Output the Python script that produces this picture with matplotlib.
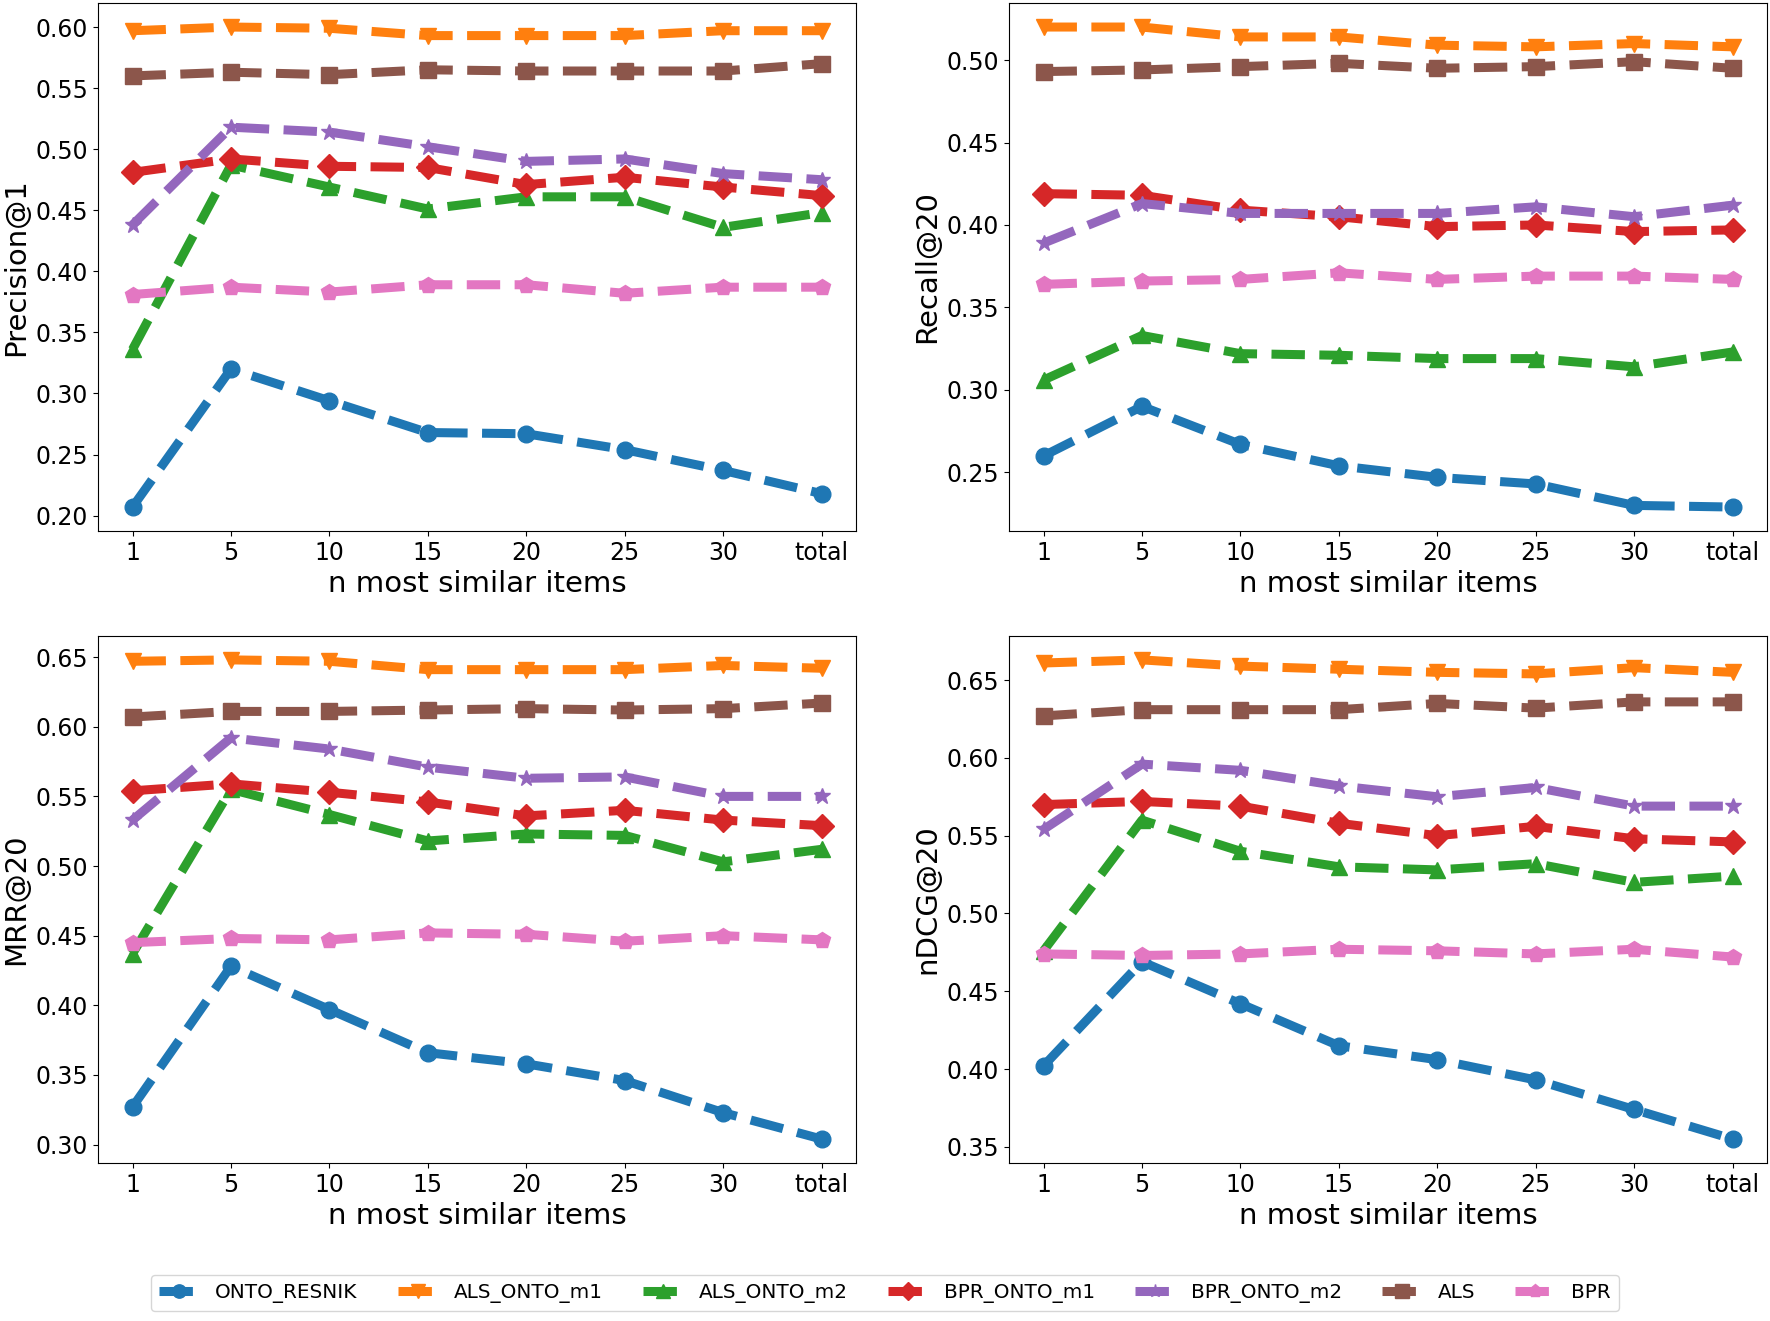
import matplotlib
matplotlib.use("Agg")
import matplotlib.pyplot as plt

# x categories
n_items = ["1", "5", "10", "15", "20", "25", "30", "total"]
methods = ["ONTO_RESNIK", "ALS_ONTO_m1", "ALS_ONTO_m2", "BPR_ONTO_m1",
           "BPR_ONTO_m2", "ALS", "BPR"]
markers = ["o", "v", "^", "D", "*", "s", "p"]

# Precision@1
prec_onto_resnik = [0.207, 0.320, 0.294, 0.268, 0.267, 0.254, 0.237, 0.218]
prec_als_onto_m1 = [0.597, 0.600, 0.599, 0.593, 0.593, 0.593, 0.597, 0.597]
prec_als_onto_m2 = [0.336, 0.487, 0.469, 0.451, 0.461, 0.461, 0.436, 0.448]
prec_bpr_onto_m1 = [0.481, 0.492, 0.486, 0.485, 0.471, 0.477, 0.469, 0.462]
prec_bpr_onto_m2 = [0.438, 0.518, 0.514, 0.502, 0.490, 0.492, 0.480, 0.475]
prec_als = [0.560, 0.563, 0.561, 0.565, 0.564, 0.564, 0.564, 0.570]
prec_bpr = [0.381, 0.387, 0.383, 0.389, 0.389, 0.382, 0.387, 0.387]

# Recall@20
rec_onto_resnik = [0.260, 0.290, 0.267, 0.254, 0.247, 0.243, 0.230, 0.229]
rec_als_onto_m1 = [0.520, 0.520, 0.514, 0.514, 0.509, 0.508, 0.510, 0.508]
rec_als_onto_m2 = [0.306, 0.333, 0.322, 0.321, 0.319, 0.319, 0.314, 0.323]
rec_bpr_onto_m1 = [0.419, 0.418, 0.409, 0.405, 0.399, 0.400, 0.396, 0.397]
rec_bpr_onto_m2 = [0.389, 0.413, 0.407, 0.407, 0.407, 0.411, 0.405, 0.412]
rec_als = [0.493, 0.494, 0.496, 0.498, 0.495, 0.496, 0.499, 0.495]
rec_bpr = [0.364, 0.366, 0.367, 0.371, 0.367, 0.369, 0.369, 0.367]

# MRR@20
mrr_onto_resnik = [0.327, 0.428, 0.397, 0.366, 0.358, 0.346, 0.323, 0.304]
mrr_als_onto_m1 = [0.647, 0.648, 0.647, 0.641, 0.641, 0.641, 0.644, 0.642]
mrr_als_onto_m2 = [0.437, 0.555, 0.537, 0.518, 0.523, 0.522, 0.503, 0.512]
mrr_bpr_onto_m1 = [0.554, 0.559, 0.553, 0.546, 0.536, 0.540, 0.533, 0.529]
mrr_bpr_onto_m2 = [0.533, 0.592, 0.584, 0.571, 0.563, 0.564, 0.550, 0.550]
mrr_als = [0.607, 0.611, 0.611, 0.612, 0.613, 0.612, 0.613, 0.617]
mrr_bpr = [0.445, 0.448, 0.447, 0.452, 0.451, 0.446, 0.450, 0.447]

# nDCG@20
ndcg_onto_resnik = [0.402, 0.469, 0.442, 0.415, 0.406, 0.393, 0.374, 0.355]
ndcg_als_onto_m1 = [0.661, 0.663, 0.659, 0.657, 0.655, 0.654, 0.658, 0.655]
ndcg_als_onto_m2 = [0.476, 0.560, 0.540, 0.530, 0.528, 0.532, 0.520, 0.524]
ndcg_bpr_onto_m1 = [0.570, 0.572, 0.569, 0.558, 0.550, 0.556, 0.548, 0.546]
ndcg_bpr_onto_m2 = [0.554, 0.596, 0.592, 0.582, 0.575, 0.581, 0.569, 0.569]
ndcg_als = [0.627, 0.631, 0.631, 0.631, 0.635, 0.632, 0.636, 0.636]
ndcg_bpr = [0.474, 0.473, 0.474, 0.477, 0.476, 0.474, 0.477, 0.472]

panels = [
    ("Precision@1", [prec_onto_resnik, prec_als_onto_m1, prec_als_onto_m2,
                     prec_bpr_onto_m1, prec_bpr_onto_m2, prec_als, prec_bpr]),
    ("Recall@20", [rec_onto_resnik, rec_als_onto_m1, rec_als_onto_m2,
                   rec_bpr_onto_m1, rec_bpr_onto_m2, rec_als, rec_bpr]),
    ("MRR@20", [mrr_onto_resnik, mrr_als_onto_m1, mrr_als_onto_m2,
                mrr_bpr_onto_m1, mrr_bpr_onto_m2, mrr_als, mrr_bpr]),
    ("nDCG@20", [ndcg_onto_resnik, ndcg_als_onto_m1, ndcg_als_onto_m2,
                 ndcg_bpr_onto_m1, ndcg_bpr_onto_m2, ndcg_als, ndcg_bpr]),
]

fig = plt.figure(figsize=(17.7, 13.21), dpi=100)
positions = [
    [0.0554, 0.598, 0.4282, 0.3997],
    [0.5701, 0.598, 0.4282, 0.3997],
    [0.0554, 0.1196, 0.4282, 0.399],
    [0.5701, 0.1196, 0.4282, 0.399],
]

x = list(range(len(n_items)))
for pos, (ylabel, series) in zip(positions, panels):
    ax = fig.add_axes(pos)
    for name, mk, vals in zip(methods, markers, series):
        ax.plot(x, vals, linestyle="--", linewidth=6.5, marker=mk,
                markersize=12, label=name)
    ax.set_xticks(x)
    ax.set_xticklabels(n_items)
    ax.tick_params(labelsize=17)
    ax.set_xlabel("n most similar items", fontsize=21)
    ax.set_ylabel(ylabel, fontsize=21)
    ax.yaxis.set_major_formatter(matplotlib.ticker.FormatStrFormatter("%.2f"))

handles, labels = ax.get_legend_handles_labels()
fig.legend(handles, labels, loc="lower center", ncol=7, fontsize=14.4,
           markerscale=0.8, handlelength=2.0, bbox_to_anchor=(0.5, 0.0))

fig.savefig("out.png", dpi=100)
